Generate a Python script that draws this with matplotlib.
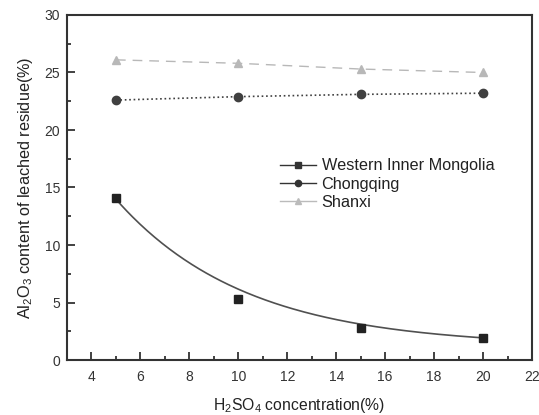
import numpy as np
import matplotlib
matplotlib.use("Agg")
import matplotlib.pyplot as plt
from matplotlib.lines import Line2D
from matplotlib.ticker import MultipleLocator

plt.rcParams["font.family"] = ["Liberation Sans", "DejaVu Sans"]
plt.rcParams["mathtext.fontset"] = "custom"
plt.rcParams["mathtext.rm"] = "Liberation Sans"
plt.rcParams["mathtext.it"] = "Liberation Sans"

conc = [5, 10, 15, 20]
western = [14.1, 5.3, 2.8, 1.9]
chongqing = [22.6, 22.9, 23.1, 23.2]
shanxi = [26.1, 25.8, 25.3, 25.0]
# values of the fitted curve for Western Inner Mongolia
western_fit = [14.0, 6.3, 3.0, 1.95]

# exponential decay y = y0 + A*exp(k*x), fitted to the curve values
x = np.array(conc, dtype=float)
y = np.array(western_fit)
best = None
for y0 in np.linspace(0, 1.9, 191):
    k, b = np.polyfit(x, np.log(y - y0), 1)
    err = np.sum((y0 + np.exp(b + k * x) - y) ** 2)
    if best is None or err < best[0]:
        best = (err, y0, k, b)
_, y0, k, b = best
xf = np.linspace(5, 20, 200)
yf = y0 + np.exp(b + k * xf)

fig = plt.figure(figsize=(5.39, 4.15), dpi=100)
ax = fig.add_axes([67 / 539, 55 / 415, 465 / 539, 345 / 415])

ax.plot(xf, yf, color="#505050", lw=1.2)
ax.plot(conc, western, "s", color="#222222", ms=5.5)
ax.plot(conc, chongqing, "o", ls=":", color="#404040", ms=6, lw=1.2)
ax.plot(conc, shanxi, "^", ls=(0, (7, 5)), color="#b8b8b8", ms=5.5, lw=1)

ax.set_xlim(3, 22)
ax.set_ylim(0, 30)
ax.xaxis.set_major_locator(MultipleLocator(2))
ax.xaxis.set_minor_locator(MultipleLocator(1))
ax.yaxis.set_major_locator(MultipleLocator(5))
ax.yaxis.set_minor_locator(MultipleLocator(2.5))
ax.tick_params(which="both", direction="in", top=False, right=False,
               labelsize=10, width=1.3, colors="#333333")
ax.tick_params(which="major", length=6)
ax.tick_params(which="minor", length=3)
ax.tick_params(axis="x", pad=7)
ax.tick_params(axis="y", pad=5)
for s in ax.spines.values():
    s.set_linewidth(1.5)
    s.set_color("#333333")

ax.set_xlabel(r"H$_2$SO$_4$ concentration(%)", fontsize=11.3, labelpad=9,
              color="#222222")
ax.set_ylabel(r"Al$_2$O$_3$ content of leached residue(%)", fontsize=11.7,
              labelpad=7, color="#222222")

handles = [
    Line2D([], [], color="#333333", marker="s", ms=4, lw=1),
    Line2D([], [], color="#333333", marker="o", ms=4.5, lw=1),
    Line2D([], [], color="#bbbbbb", marker="^", ms=4.5, lw=1),
]
ax.legend(handles, ["Western Inner Mongolia", "Chongqing", "Shanxi"],
          loc="center left", bbox_to_anchor=(0.427, 0.51), frameon=False,
          fontsize=11.7, handlelength=2.2, handletextpad=0.35,
          labelspacing=0.2, labelcolor="#222222")

fig.savefig("out.png", dpi=100)
